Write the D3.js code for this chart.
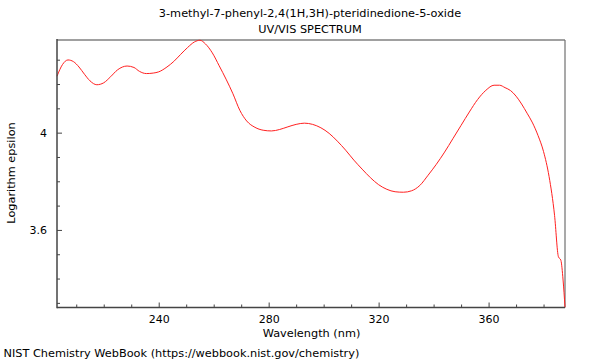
<!DOCTYPE html>
<html><head><meta charset="utf-8">
<script src="https://cdn.jsdelivr.net/npm/d3@7"></script>
<style>body{margin:0;background:#fff}svg{display:block}text{font-family:"DejaVu Sans",sans-serif;fill:#000}</style>
</head><body><svg id="c" width="600" height="360"></svg>
<script>
const wavelength = [203,205,207,209,211,213,215,217.5,220,222.5,225,228.5,231,233,235.5,238,240,243,245.5,248,250.5,253,255,257,259.5,262,264.5,267,269.5,272,275,278,281,284,287,290,293,296,299,302,305,308,311,314,317,320,323,326,329,332,335,338,341,344,347,350,353,356,359,362,364,366,368,370,372,374,376,378,380,382,384,385.4,386.3,387.1,387.8];
const logEpsilon = [4.232,4.280,4.299,4.292,4.270,4.240,4.213,4.197,4.205,4.230,4.258,4.274,4.268,4.252,4.243,4.245,4.250,4.270,4.293,4.322,4.350,4.373,4.380,4.365,4.328,4.275,4.220,4.160,4.092,4.048,4.022,4.010,4.007,4.013,4.024,4.034,4.039,4.034,4.020,3.997,3.965,3.928,3.887,3.850,3.815,3.786,3.767,3.757,3.755,3.761,3.783,3.825,3.870,3.920,3.975,4.030,4.085,4.136,4.174,4.195,4.195,4.185,4.173,4.150,4.118,4.080,4.040,3.988,3.922,3.820,3.660,3.490,3.475,3.394,3.282];
const xMajorTicks = [240,280,320,360];
const xMinorTicks = [210,220,230,250,260,270,290,300,310,330,340,350,370,380];
const yMajorTicks = [3.6,4];
const yMinorTicks = [3.3,3.4,3.5,3.7,3.8,3.9,4.1,4.2,4.3];
const titleLines = ["3-methyl-7-phenyl-2,4(1H,3H)-pteridinedione-5-oxide","UV/VIS SPECTRUM"];
const xLabel = "Wavelength (nm)";
const yLabel = "Logarithm epsilon";
const credit = "NIST Chemistry WebBook (https://webbook.nist.gov/chemistry)";

const L=57,R=565,T=40,B=307.5;
const FS=11.3;
const svg=d3.select("#c");
const x=d3.scaleLinear().domain([203,387.8]).range([L,R]);
const y=d3.scaleLinear().domain([3.281,4.381]).range([B,T]);

svg.append("line").attr("x1",L).attr("x2",R).attr("y1",T).attr("y2",T).attr("stroke","#a0a0a0").attr("stroke-width",2);
svg.append("line").attr("x1",R).attr("x2",R).attr("y1",T).attr("y2",B).attr("stroke","#707070").attr("stroke-width",1.2);

const data=wavelength.map((w,i)=>[w,logEpsilon[i]]);
svg.append("path").datum(data).attr("fill","none").attr("stroke","#ff2020").attr("stroke-width",1)
  .attr("d",d3.line().x(d=>x(d[0])).y(d=>y(d[1])).curve(d3.curveMonotoneX));

const gx=svg.append("g").attr("transform",`translate(0,${B})`);
gx.call(d3.axisBottom(x).tickValues(xMajorTicks).tickSizeInner(-5).tickSizeOuter(0).tickFormat(d3.format("d")).tickPadding(8));
gx.append("g").call(d3.axisBottom(x).tickValues(xMinorTicks).tickSizeInner(-3).tickSizeOuter(0).tickFormat(""));
gx.selectAll(".domain").remove();
gx.selectAll("line").attr("stroke","#444");
gx.selectAll("text").attr("font-size",11).attr("font-family","DejaVu Sans").attr("fill","#000");
svg.append("line").attr("x1",L).attr("x2",R).attr("y1",B).attr("y2",B).attr("stroke","#444").attr("stroke-width",1.5);

const gy=svg.append("g").attr("transform",`translate(${L},0)`);
gy.call(d3.axisLeft(y).tickValues(yMajorTicks).tickSizeInner(-5).tickSizeOuter(0).tickFormat(d=>d3.format("")(d)).tickPadding(10));
gy.append("g").call(d3.axisLeft(y).tickValues(yMinorTicks).tickSizeInner(-3).tickSizeOuter(0).tickFormat(""));
gy.selectAll(".domain").remove();
gy.selectAll("line").attr("stroke","#444");
gy.selectAll("text").attr("font-size",11).attr("font-family","DejaVu Sans").attr("fill","#000");
svg.append("line").attr("x1",L).attr("x2",L).attr("y1",T-1).attr("y2",B+0.75).attr("stroke","#444").attr("stroke-width",1.5);

svg.selectAll(".title").data(titleLines).enter().append("text").attr("class","title")
  .attr("x",310).attr("y",(d,i)=>17+i*16).attr("text-anchor","middle").attr("font-size",FS).text(d=>d);
svg.append("text").attr("x",311.5).attr("y",336.5).attr("text-anchor","middle").attr("font-size",FS).text(xLabel);
svg.append("text").attr("transform","translate(15,173) rotate(-90)").attr("text-anchor","middle").attr("font-size",FS).text(yLabel);
svg.append("text").attr("x",3.5).attr("y",357).attr("font-size",FS).text(credit);
</script></body></html>
